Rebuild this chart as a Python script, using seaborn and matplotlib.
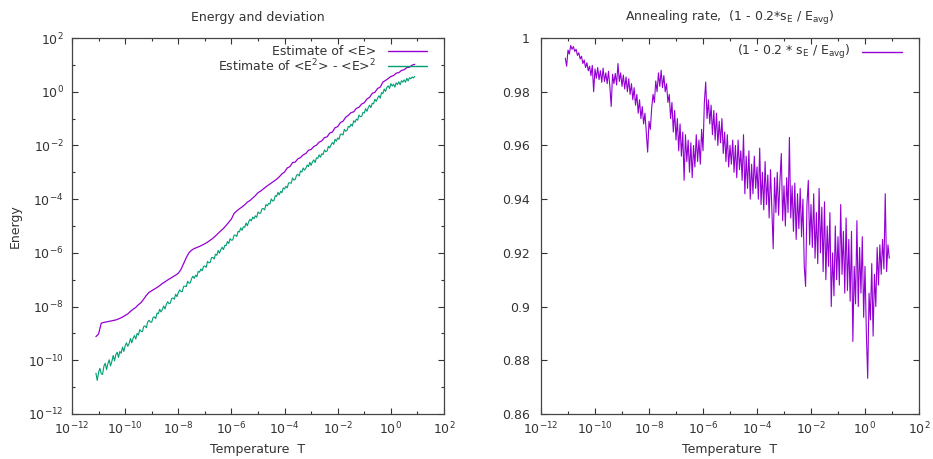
import pandas as pd
import seaborn as sns
from matplotlib import pyplot as plt

# log10 of the temperature T for the <E> curve
log_t = [-11.1, -11.0, -10.9, -10.8, -10.7, -10.6, -10.5, -10.4, -10.3, -10.2,
         -10.1, -10.0, -9.9, -9.8, -9.7, -9.6, -9.5, -9.4, -9.3, -9.2,
         -9.1, -9.0, -8.9, -8.8, -8.7, -8.6, -8.5, -8.4, -8.3, -8.2,
         -8.1, -8.0, -7.9, -7.8, -7.7, -7.6, -7.5, -7.4, -7.3, -7.2,
         -7.1, -7.0, -6.9, -6.8, -6.7, -6.6, -6.5, -6.4, -6.3, -6.2,
         -6.1, -6.0, -5.9, -5.8, -5.7, -5.6, -5.5, -5.4, -5.3, -5.2,
         -5.1, -5.0, -4.9, -4.8, -4.7, -4.6, -4.5, -4.4, -4.3, -4.2,
         -4.1, -4.0, -3.9, -3.8, -3.7, -3.6, -3.5, -3.4, -3.3, -3.2,
         -3.1, -3.0, -2.9, -2.8, -2.7, -2.6, -2.5, -2.4, -2.3, -2.2,
         -2.1, -2.0, -1.9, -1.8, -1.7, -1.6, -1.5, -1.4, -1.3, -1.2,
         -1.1, -1.0, -0.9, -0.8, -0.7, -0.6, -0.5, -0.4, -0.3, -0.2,
         -0.1, 0.0, 0.1, 0.2, 0.3, 0.4, 0.5, 0.6, 0.7, 0.8,
         0.9]

# log10 of the estimate of <E>
log_energy = [-9.12, -9.02, -8.62, -8.59, -8.57, -8.55, -8.53, -8.51, -8.48, -8.44,
              -8.39, -8.33, -8.27, -8.18, -8.10, -8.03, -7.93, -7.85, -7.72, -7.58,
              -7.47, -7.41, -7.35, -7.29, -7.22, -7.14, -7.08, -7.01, -6.95, -6.89,
              -6.83, -6.76, -6.62, -6.40, -6.18, -6.00, -5.90, -5.84, -5.80, -5.76,
              -5.71, -5.66, -5.60, -5.53, -5.46, -5.37, -5.27, -5.18, -5.09, -4.98,
              -4.86, -4.74, -4.53, -4.44, -4.36, -4.29, -4.21, -4.11, -4.05, -3.96,
              -3.87, -3.76, -3.70, -3.62, -3.54, -3.47, -3.40, -3.33, -3.26, -3.17,
              -3.06, -2.99, -2.84, -2.79, -2.64, -2.62, -2.50, -2.45, -2.35, -2.30,
              -2.18, -2.15, -2.04, -1.99, -1.88, -1.83, -1.71, -1.68, -1.54, -1.50,
              -1.34, -1.30, -1.15, -1.10, -0.95, -0.88, -0.78, -0.75, -0.62, -0.58,
              -0.46, -0.41, -0.27, -0.21, -0.06, -0.02, 0.12, 0.17, 0.36, 0.42,
              0.49, 0.57, 0.60, 0.69, 0.71, 0.79, 0.82, 0.90, 0.91, 0.99,
              1.02]

# finer temperature grid (log10 T) for the two noisy series, one decade per row
log_t_fine = [
    -11.10, -11.05, -11.00, -10.95, -10.90, -10.85, -10.80, -10.75, -10.70, -10.65,
    -10.60, -10.55, -10.50, -10.45, -10.40, -10.35, -10.30, -10.25, -10.20, -10.15,
    -10.10, -10.05, -10.00, -9.95, -9.90, -9.85, -9.80, -9.75, -9.70, -9.65,
    -9.60, -9.55, -9.50, -9.45, -9.40, -9.35, -9.30, -9.25, -9.20, -9.15,
    -9.10, -9.05, -9.00, -8.95, -8.90, -8.85, -8.80, -8.75, -8.70, -8.65,
    -8.60, -8.55, -8.50, -8.45, -8.40, -8.35, -8.30, -8.25, -8.20, -8.15,
    -8.10, -8.05, -8.00, -7.95, -7.90, -7.85, -7.80, -7.75, -7.70, -7.65,
    -7.60, -7.55, -7.50, -7.45, -7.40, -7.35, -7.30, -7.25, -7.20, -7.15,
    -7.10, -7.05, -7.00, -6.95, -6.90, -6.85, -6.80, -6.75, -6.70, -6.65,
    -6.60, -6.55, -6.50, -6.45, -6.40, -6.35, -6.30, -6.25, -6.20, -6.15,
    -6.10, -6.05, -6.00, -5.95, -5.90, -5.85, -5.80, -5.75, -5.70, -5.65,
    -5.60, -5.55, -5.50, -5.45, -5.40, -5.35, -5.30, -5.25, -5.20, -5.15,
    -5.10, -5.05, -5.00, -4.95, -4.90, -4.85, -4.80, -4.75, -4.70, -4.65,
    -4.60, -4.55, -4.50, -4.45, -4.40, -4.35, -4.30, -4.25, -4.20, -4.15,
    -4.10, -4.05, -4.00, -3.95, -3.90, -3.85, -3.80, -3.75, -3.70, -3.65,
    -3.60, -3.55, -3.50, -3.45, -3.40, -3.35, -3.30, -3.25, -3.20, -3.15,
    -3.10, -3.05, -3.00, -2.95, -2.90, -2.85, -2.80, -2.75, -2.70, -2.65,
    -2.60, -2.55, -2.50, -2.45, -2.40, -2.35, -2.30, -2.25, -2.20, -2.15,
    -2.10, -2.05, -2.00, -1.95, -1.90, -1.85, -1.80, -1.75, -1.70, -1.65,
    -1.60, -1.55, -1.50, -1.45, -1.40, -1.35, -1.30, -1.25, -1.20, -1.15,
    -1.10, -1.05, -1.00, -0.95, -0.90, -0.85, -0.80, -0.75, -0.70, -0.65,
    -0.60, -0.55, -0.50, -0.45, -0.40, -0.35, -0.30, -0.25, -0.20, -0.15,
    -0.10, -0.05, 0.00, 0.05, 0.10, 0.15, 0.20, 0.25, 0.30, 0.35,
    0.40, 0.45, 0.50, 0.55, 0.60, 0.65, 0.70, 0.75, 0.80, 0.85,
    0.90]

# log10 of the estimate of <E^2> - <E>^2 (on log_t_fine)
log_deviation = [
    -10.48, -10.75, -10.45, -10.30, -10.50, -10.53, -10.22, -10.11, -10.35, -10.13,
    -9.98, -10.21, -10.04, -9.82, -10.02, -9.79, -9.70, -9.89, -9.67, -9.74,
    -9.51, -9.67, -9.46, -9.35, -9.48, -9.38, -9.19, -9.35, -9.18, -9.08,
    -9.21, -9.00, -9.06, -8.86, -8.92, -8.93, -8.74, -8.72, -8.79, -8.57,
    -8.51, -8.58, -8.58, -8.41, -8.38, -8.45, -8.24, -8.27, -8.10, -8.20,
    -8.11, -7.98, -8.09, -7.92, -7.82, -7.89, -7.87, -7.70, -7.68, -7.73,
    -7.54, -7.63, -7.48, -7.38, -7.44, -7.44, -7.25, -7.24, -7.26, -7.06,
    -7.13, -7.12, -6.96, -6.87, -6.95, -6.83, -6.89, -6.69, -6.72, -6.60,
    -6.67, -6.50, -6.49, -6.54, -6.32, -6.37, -6.36, -6.18, -6.17, -6.23,
    -6.05, -6.09, -5.91, -6.01, -5.88, -5.79, -5.88, -5.72, -5.73, -5.58,
    -5.65, -5.47, -5.53, -5.52, -5.34, -5.34, -5.39, -5.20, -5.22, -5.07,
    -5.16, -5.03, -5.05, -4.89, -4.99, -4.84, -4.75, -4.81, -4.67, -4.73,
    -4.62, -4.68, -4.48, -4.53, -4.52, -4.36, -4.35, -4.40, -4.20, -4.25,
    -4.16, -4.18, -3.99, -4.07, -4.05, -3.87, -3.90, -3.75, -3.84, -3.71,
    -3.76, -3.58, -3.62, -3.52, -3.58, -3.40, -3.39, -3.41, -3.21, -3.29,
    -3.27, -3.11, -3.08, -3.14, -2.95, -2.99, -2.84, -2.92, -2.85, -2.73,
    -2.79, -2.63, -2.74, -2.61, -2.54, -2.64, -2.46, -2.48, -2.35, -2.44,
    -2.31, -2.34, -2.17, -2.23, -2.21, -2.03, -2.09, -1.98, -1.89, -1.96,
    -1.77, -1.84, -1.72, -1.77, -1.58, -1.58, -1.61, -1.40, -1.47, -1.44,
    -1.29, -1.32, -1.21, -1.28, -1.08, -1.14, -1.02, -1.06, -0.87, -0.93,
    -0.92, -0.77, -0.79, -0.63, -0.73, -0.59, -0.50, -0.59, -0.43, -0.45,
    -0.28, -0.36, -0.24, -0.15, -0.24, -0.03, -0.07, 0.10, 0.01, 0.16,
    0.22, 0.12, 0.30, 0.21, 0.28, 0.17, 0.33, 0.27, 0.37, 0.26,
    0.41, 0.36, 0.44, 0.35, 0.50, 0.40, 0.52, 0.48, 0.55, 0.51,
    0.57]

# annealing rate (1 - 0.2 * s_E / E_avg) (on log_t_fine)
rate = [
    0.9925, 0.9895, 0.9955, 0.9940, 0.9972, 0.9958, 0.9968, 0.9950, 0.9958, 0.9935,
    0.9945, 0.9922, 0.9932, 0.9905, 0.9918, 0.9890, 0.9908, 0.9878, 0.9895, 0.9860,
    0.9898, 0.9800, 0.9885, 0.9850, 0.9890, 0.9845, 0.9878, 0.9835, 0.9888, 0.9838,
    0.9870, 0.9830, 0.9876, 0.9820, 0.9745, 0.9865, 0.9830, 0.9868, 0.9825, 0.9905,
    0.9838, 0.9870, 0.9820, 0.9862, 0.9810, 0.9855, 0.9800, 0.9848, 0.9790, 0.9830,
    0.9770, 0.9815, 0.9750, 0.9790, 0.9720, 0.9770, 0.9700, 0.9745, 0.9680, 0.9720,
    0.9650, 0.9575, 0.9690, 0.9660, 0.9740, 0.9790, 0.9760, 0.9840, 0.9800, 0.9870,
    0.9820, 0.9880, 0.9815, 0.9860, 0.9800, 0.9830, 0.9760, 0.9790, 0.9700, 0.9760,
    0.9650, 0.9730, 0.9620, 0.9700, 0.9580, 0.9680, 0.9560, 0.9650, 0.9470, 0.9640,
    0.9540, 0.9620, 0.9500, 0.9610, 0.9480, 0.9600, 0.9520, 0.9640, 0.9540, 0.9620,
    0.9530, 0.9660, 0.9580, 0.9760, 0.9836, 0.9700, 0.9770, 0.9680, 0.9750, 0.9640,
    0.9730, 0.9620, 0.9720, 0.9600, 0.9690, 0.9610, 0.9700, 0.9570, 0.9650, 0.9540,
    0.9640, 0.9520, 0.9600, 0.9530, 0.9620, 0.9500, 0.9600, 0.9480, 0.9620, 0.9510,
    0.9580, 0.9470, 0.9640, 0.9420, 0.9560, 0.9440, 0.9580, 0.9400, 0.9530, 0.9420,
    0.9560, 0.9440, 0.9520, 0.9400, 0.9590, 0.9380, 0.9500, 0.9360, 0.9540, 0.9380,
    0.9490, 0.9330, 0.9510, 0.9360, 0.9215, 0.9480, 0.9350, 0.9500, 0.9340, 0.9470,
    0.9570, 0.9320, 0.9450, 0.9300, 0.9480, 0.9350, 0.9630, 0.9330, 0.9450, 0.9280,
    0.9460, 0.9250, 0.9420, 0.9290, 0.9440, 0.9260, 0.9400, 0.9150, 0.9075, 0.9380,
    0.9470, 0.9230, 0.9380, 0.9220, 0.9420, 0.9180, 0.9350, 0.9160, 0.9440, 0.9200,
    0.9370, 0.9130, 0.9390, 0.9100, 0.9300, 0.9150, 0.9350, 0.9000, 0.9200, 0.9040,
    0.9300, 0.9100, 0.9260, 0.9080, 0.9380, 0.9120, 0.9280, 0.9050, 0.9330, 0.9060,
    0.9250, 0.9020, 0.9280, 0.8870, 0.9150, 0.9010, 0.9320, 0.9000, 0.9220, 0.9050,
    0.9260, 0.8960, 0.9150, 0.8900, 0.8733, 0.9050, 0.8950, 0.9160, 0.8890, 0.9120,
    0.9000, 0.9220, 0.9080, 0.9230, 0.9120, 0.9250, 0.9140, 0.9420, 0.9130, 0.9230,
    0.9180]

decade_ticks = [1e-12, 1e-10, 1e-8, 1e-6, 1e-4, 1e-2, 1e0, 1e2]
decade_labels = ['$10^{-12}$', '$10^{-10}$', '$10^{-8}$', '$10^{-6}$',
                 '$10^{-4}$', '$10^{-2}$', '$10^{0}$', '$10^{2}$']
odd_decades = [1e-11, 1e-9, 1e-7, 1e-5, 1e-3, 1e-1, 1e1]
rate_ticks = [0.86, 0.88, 0.9, 0.92, 0.94, 0.96, 0.98, 1.0]
rate_labels = ['0.86', '0.88', '0.9', '0.92', '0.94', '0.96', '0.98', '1']

PURPLE = '#9400d3'
GREEN = '#009e73'
INK = '#333333'

sns.set_style("ticks")
plt.rcParams['font.family'] = ['DejaVu Sans']
plt.rcParams['font.size'] = 9
plt.rcParams['text.color'] = INK
plt.rcParams['axes.labelcolor'] = INK

coarse = pd.DataFrame({'T': [10 ** v for v in log_t],
                       'E': [10 ** v for v in log_energy]})
fine = pd.DataFrame({'T': [10 ** v for v in log_t_fine],
                     'D': [10 ** v for v in log_deviation],
                     'rate': rate})

fig = plt.figure(figsize=(9.33, 4.59), dpi=100)
ax1 = fig.add_axes([72 / 933, 45 / 459, 372 / 933, 376 / 459])
ax2 = fig.add_axes([541 / 933, 45 / 459, 378 / 933, 376 / 459])

sns.lineplot(data=coarse, x='T', y='E', ax=ax1, color=PURPLE, lw=0.9,
             estimator=None, sort=False, legend=False)
sns.lineplot(data=fine, x='T', y='D', ax=ax1, color=GREEN, lw=0.8,
             estimator=None, sort=False, legend=False)
sns.lineplot(data=fine, x='T', y='rate', ax=ax2, color=PURPLE, lw=0.8,
             estimator=None, sort=False, legend=False)

for ax in (ax1, ax2):
    ax.set_xscale('log')
    ax.set_xlim(1e-12, 1e2)
    ax.set_xticks(decade_ticks)
    ax.set_xticklabels(decade_labels)
    ax.set_xticks(odd_decades, minor=True)
    ax.set_xticklabels([], minor=True)
    ax.set_xlabel('Temperature  T', labelpad=4)
    ax.tick_params(which='both', direction='in', top=True, right=True,
                   color=INK, labelcolor=INK, width=0.8, labelsize=9)
    ax.tick_params(which='major', length=4)
    ax.tick_params(which='minor', length=2.5)
    ax.tick_params(axis='x', pad=5)
    for sp in ax.spines.values():
        sp.set_color('#444444')
        sp.set_linewidth(0.9)

ax1.set_yscale('log')
ax1.set_ylim(1e-12, 1e2)
ax1.set_yticks(decade_ticks)
ax1.set_yticklabels(decade_labels)
ax1.set_yticks(odd_decades, minor=True)
ax1.set_yticklabels([], minor=True)
ax1.tick_params(axis='y', pad=6)
ax1.set_ylabel('Energy', labelpad=4)
ax1.set_title('Energy and deviation', fontsize=9, pad=12, color=INK)

ax2.set_ylim(0.86, 1.0)
ax2.set_yticks(rate_ticks)
ax2.set_yticklabels(rate_labels)
ax2.tick_params(axis='y', pad=8)
ax2.set_ylabel('')
ax2.set_title(r'Annealing rate,  (1 - 0.2*s$_{\rm E}$ / E$_{\rm avg}$)',
              fontsize=9, pad=12, color=INK)

# gnuplot style key: right aligned text followed by a line sample
keys = [(ax1, 'Estimate of <E>', PURPLE, 0.965),
        (ax1, 'Estimate of <E$^{2}$> - <E>$^{2}$', GREEN, 0.925),
        (ax2, r'(1 - 0.2 * s$_{\rm E}$ / E$_{\rm avg}$)', PURPLE, 0.963)]
for ax, text, color, y in keys:
    ax.plot([0.85, 0.955], [y, y], transform=ax.transAxes, color=color, lw=1.0)
    ax.text(0.818, y, text, transform=ax.transAxes, ha='right', va='center',
            fontsize=9, color=INK)

fig.savefig('out.png', dpi=100)
